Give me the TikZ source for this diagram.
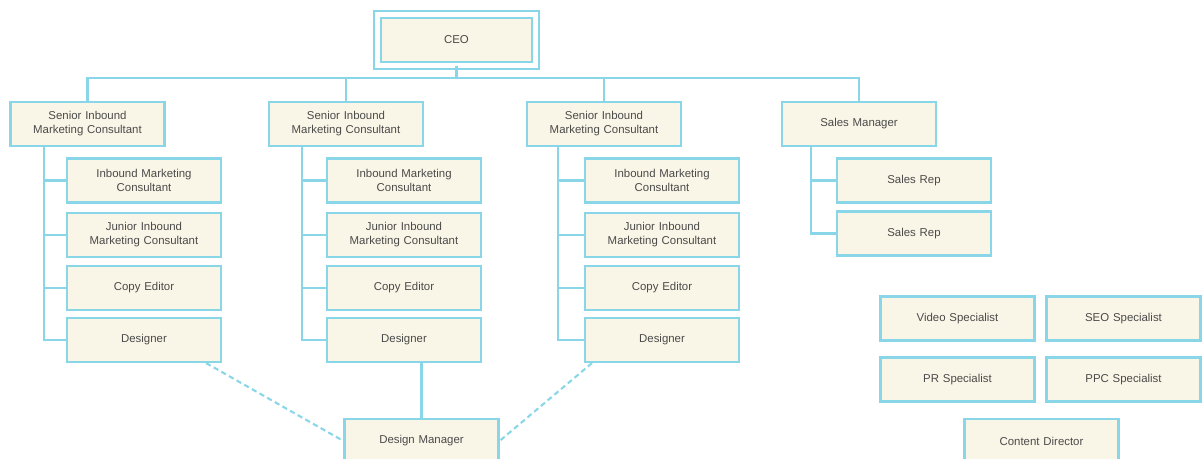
\documentclass[tikz,border=0pt]{standalone}
\usepackage{fontspec}
\setmainfont{Liberation Sans}
\definecolor{wire}{HTML}{8AD6E9}
\definecolor{cream}{HTML}{FAF6E7}
\definecolor{ink}{HTML}{4A4A4A}
\tikzstyle{post}=[rectangle,draw=wire,fill=cream,line width=1.2pt,minimum width=3.08cm,minimum height=0.88cm,text width=2.9cm,align=center,inner sep=1pt,text=ink,font=\fontsize{6.5}{8}\selectfont]
\tikzstyle{head}=[post,line width=1pt,double=white,double distance=0.1cm,minimum width=3.16cm,minimum height=1.02cm]
\tikzstyle{link}=[draw=wire,line width=1.4pt]
\tikzstyle{dotlink}=[draw=wire,line width=1.2pt,dashed,dash pattern=on 3pt off 2pt]

\begin{document}
\begin{tikzpicture}[x=0.02cm,y=-0.02cm]
                    \useasboundingbox (0,0) rectangle (1202,459);
                    \node (ceo) at (456.5,40) [head] {CEO};
                    \coordinate (bus) at (456.5,78);

                    \node (sr1) at (87.5,124) [post] {Senior Inbound\\Marketing Consultant};
                    \node (sr2) at (346,124) [post] {Senior Inbound\\Marketing Consultant};
                    \node (sr3) at (604,124) [post] {Senior Inbound\\Marketing Consultant};
                    \node (sm) at (859,124) [post] {Sales Manager};

                    \node (ib1) at (144,180.5) [post] {Inbound Marketing\\Consultant};
                    \node (jr1) at (144,235) [post] {Junior Inbound\\Marketing Consultant};
                    \node (ce1) at (144,288) [post] {Copy Editor};
                    \node (ds1) at (144,340) [post] {Designer};

                    \node (ib2) at (404,180.5) [post] {Inbound Marketing\\Consultant};
                    \node (jr2) at (404,235) [post] {Junior Inbound\\Marketing Consultant};
                    \node (ce2) at (404,288) [post] {Copy Editor};
                    \node (ds2) at (404,340) [post] {Designer};

                    \node (ib3) at (662,180.5) [post] {Inbound Marketing\\Consultant};
                    \node (jr3) at (662,235) [post] {Junior Inbound\\Marketing Consultant};
                    \node (ce3) at (662,288) [post] {Copy Editor};
                    \node (ds3) at (662,340) [post] {Designer};

                    \node (rep1) at (914,180.5) [post] {Sales Rep};
                    \node (rep2) at (914,233.5) [post] {Sales Rep};

                    \node (video) at (957.5,318.5) [post] {Video Specialist};
                    \node (seo) at (1123.5,318.5) [post] {SEO Specialist};
                    \node (pr) at (957.5,379.5) [post] {PR Specialist};
                    \node (ppc) at (1123.5,379.5) [post] {PPC Specialist};
                    \node (cd) at (1041.5,441) [post] {Content Director};
                    \node (dm) at (421.5,441) [post] {Design Manager};

                    \coordinate (c1) at (44,146);
                    \coordinate (c2) at (302,146);
                    \coordinate (c3) at (558,146);
                    \coordinate (c4) at (811,146);

                    \draw [link] (ceo) -- (bus);
                    \draw [link] (bus) -| (sr1.north);
                    \draw [link] (bus) -| (sr2.north);
                    \draw [link] (bus) -| (sr3.north);
                    \draw [link] (bus) -| (sm.north);

                    \draw [link] (c1) |- (ib1.west) (c1) |- (jr1.west) (c1) |- (ce1.west) (c1) |- (ds1.west);
                    \draw [link] (c2) |- (ib2.west) (c2) |- (jr2.west) (c2) |- (ce2.west) (c2) |- (ds2.west);
                    \draw [link] (c3) |- (ib3.west) (c3) |- (jr3.west) (c3) |- (ce3.west) (c3) |- (ds3.west);
                    \draw [link] (c4) |- (rep1.west) (c4) |- (rep2.west);

                    \draw [link] (dm.north) -- (dm.north |- ds2.south);
                    \draw [dotlink] ([xshift=-0.32cm]ds1.south east) -- (dm.west);
                    \draw [dotlink] ([xshift=0.16cm]ds3.south west) -- (dm.east);
                \end{tikzpicture}
\end{document}
